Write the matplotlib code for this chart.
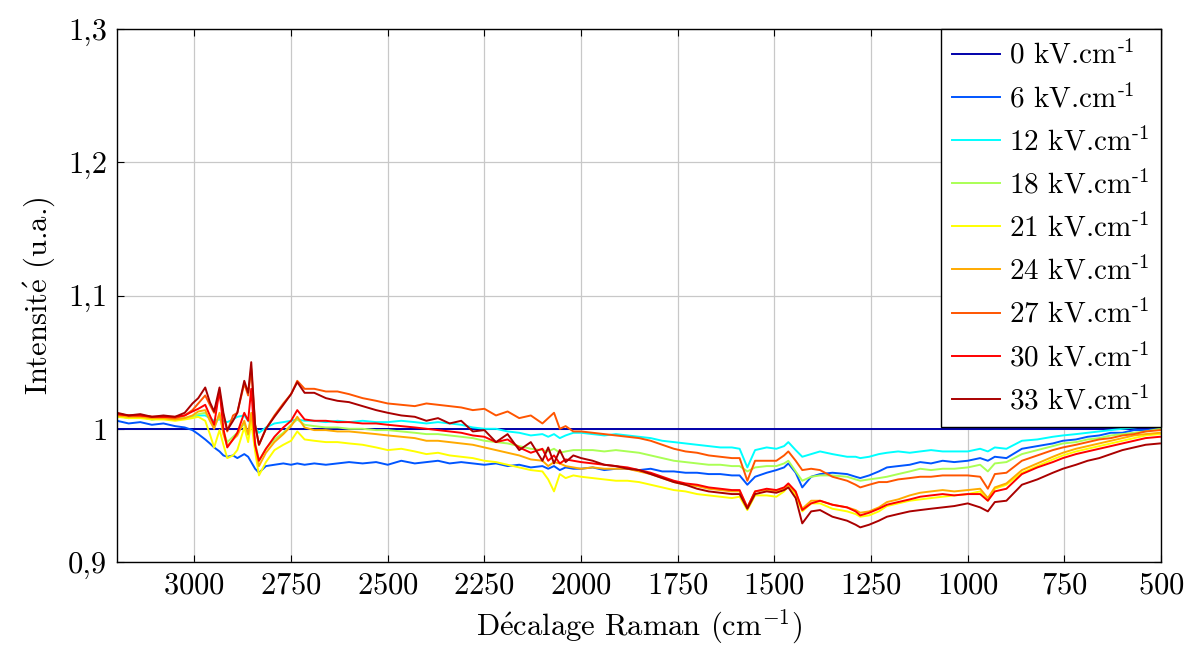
import matplotlib
matplotlib.use("Agg")
import matplotlib.pyplot as plt
from matplotlib.ticker import FuncFormatter, MultipleLocator
import numpy as np

plt.rcParams['font.family'] = ['cmr10', 'DejaVu Serif']
plt.rcParams['mathtext.fontset'] = 'cm'
plt.rcParams['axes.formatter.use_mathtext'] = True
plt.rcParams['axes.unicode_minus'] = False

# Raman shift (cm-1)
shift = [3200, 3170, 3140, 3110, 3080, 3050, 3025, 3005, 2990, 2972,
         2960, 2949, 2935, 2925, 2915, 2900, 2889, 2871, 2861, 2853,
         2843, 2833, 2815, 2793, 2770, 2750, 2734, 2715, 2690, 2660,
         2630, 2600, 2565, 2530, 2500, 2465, 2430, 2400, 2370, 2340,
         2310, 2280, 2250, 2220, 2190, 2160, 2130, 2100, 2085, 2070,
         2055, 2040, 2020, 2000, 1970, 1940, 1910, 1880, 1850, 1820,
         1790, 1760, 1730, 1700, 1670, 1640, 1610, 1590, 1570, 1550,
         1520, 1495, 1475, 1464, 1445, 1428, 1405, 1382, 1350, 1312,
         1290, 1278, 1255, 1230, 1209, 1180, 1150, 1123, 1095, 1065,
         1035, 1000, 968, 948, 930, 900, 860, 820, 780, 754,
         720, 690, 660, 630, 600, 570, 540, 503]

i0 = [1.0] * len(shift)

i6 = [1.006, 1.004, 1.005, 1.003, 1.004, 1.002, 1.001, 0.999, 0.996, 0.992,
      0.989, 0.986, 0.983, 0.980, 0.979, 0.980, 0.978, 0.981, 0.979, 0.975,
      0.970, 0.967, 0.972, 0.973, 0.974, 0.973, 0.974, 0.973, 0.974, 0.973,
      0.974, 0.975, 0.974, 0.975, 0.973, 0.976, 0.974, 0.975, 0.976, 0.974,
      0.975, 0.974, 0.973, 0.974, 0.972, 0.973, 0.971, 0.972, 0.970, 0.972,
      0.969, 0.971, 0.970, 0.970, 0.971, 0.969, 0.970, 0.970, 0.969, 0.970,
      0.968, 0.968, 0.967, 0.967, 0.966, 0.966, 0.965, 0.965, 0.958, 0.964,
      0.967, 0.969, 0.971, 0.974, 0.967, 0.956, 0.964, 0.966, 0.967, 0.966,
      0.964, 0.963, 0.965, 0.968, 0.971, 0.972, 0.973, 0.975, 0.974, 0.976,
      0.975, 0.976, 0.978, 0.976, 0.979, 0.978, 0.985, 0.987, 0.989, 0.991,
      0.992, 0.994, 0.995, 0.997, 0.997, 0.999, 0.999, 1.000]

i12 = [1.010, 1.008, 1.009, 1.007, 1.008, 1.007, 1.008, 1.009, 1.010, 1.010,
       1.008, 1.006, 1.007, 1.006, 1.005, 1.007, 1.009, 1.010, 1.006, 1.004,
       1.001, 0.997, 1.001, 1.004, 1.005, 1.006, 1.007, 1.006, 1.006, 1.005,
       1.006, 1.005, 1.006, 1.005, 1.005, 1.006, 1.005, 1.004, 1.005, 1.004,
       1.003, 1.001, 1.000, 1.000, 0.998, 0.997, 0.995, 0.996, 0.994, 0.996,
       0.993, 0.995, 0.997, 0.997, 0.996, 0.995, 0.996, 0.995, 0.994, 0.993,
       0.991, 0.990, 0.989, 0.988, 0.987, 0.986, 0.986, 0.985, 0.971, 0.984,
       0.986, 0.985, 0.987, 0.990, 0.984, 0.979, 0.981, 0.983, 0.981, 0.979,
       0.979, 0.978, 0.979, 0.981, 0.982, 0.983, 0.982, 0.983, 0.984, 0.983,
       0.983, 0.983, 0.985, 0.983, 0.986, 0.985, 0.991, 0.992, 0.994, 0.995,
       0.996, 0.997, 0.998, 0.999, 1.000, 1.001, 1.002, 1.003]

i18 = [1.010, 1.008, 1.009, 1.007, 1.008, 1.007, 1.008, 1.009, 1.011, 1.012,
       1.007, 1.001, 1.010, 0.998, 0.990, 0.994, 0.997, 1.004, 0.995, 1.010,
       0.990, 0.976, 0.985, 0.992, 0.997, 1.003, 1.007, 1.003, 1.002, 1.001,
       1.001, 1.000, 1.000, 0.999, 0.999, 0.998, 0.997, 0.996, 0.996, 0.995,
       0.994, 0.993, 0.991, 0.990, 0.989, 0.987, 0.985, 0.984, 0.983, 0.985,
       0.982, 0.983, 0.984, 0.984, 0.984, 0.983, 0.984, 0.983, 0.982, 0.980,
       0.978, 0.976, 0.975, 0.974, 0.973, 0.973, 0.972, 0.972, 0.968, 0.971,
       0.972, 0.972, 0.974, 0.976, 0.968, 0.961, 0.964, 0.965, 0.965, 0.964,
       0.962, 0.961, 0.962, 0.963, 0.964, 0.966, 0.968, 0.970, 0.969, 0.970,
       0.970, 0.971, 0.973, 0.968, 0.974, 0.975, 0.981, 0.984, 0.987, 0.989,
       0.990, 0.992, 0.993, 0.995, 0.996, 0.997, 0.998, 1.000]

i21 = [1.009, 1.008, 1.008, 1.007, 1.007, 1.006, 1.007, 1.008, 1.009, 1.006,
       0.996, 0.986, 0.999, 0.988, 0.978, 0.980, 0.984, 1.001, 0.990, 1.005,
       0.983, 0.965, 0.975, 0.984, 0.988, 0.991, 0.998, 0.992, 0.991, 0.990,
       0.990, 0.989, 0.988, 0.986, 0.984, 0.985, 0.983, 0.981, 0.982, 0.980,
       0.979, 0.978, 0.976, 0.975, 0.973, 0.971, 0.969, 0.968, 0.962, 0.953,
       0.966, 0.963, 0.965, 0.964, 0.963, 0.962, 0.961, 0.961, 0.960, 0.958,
       0.956, 0.954, 0.953, 0.951, 0.950, 0.949, 0.948, 0.949, 0.939, 0.950,
       0.950, 0.949, 0.953, 0.957, 0.950, 0.938, 0.944, 0.944, 0.940, 0.938,
       0.936, 0.934, 0.935, 0.938, 0.942, 0.944, 0.946, 0.947, 0.948, 0.949,
       0.950, 0.951, 0.953, 0.946, 0.955, 0.958, 0.967, 0.972, 0.977, 0.980,
       0.983, 0.985, 0.987, 0.989, 0.991, 0.993, 0.995, 0.996]

i24 = [1.010, 1.009, 1.009, 1.008, 1.008, 1.007, 1.008, 1.010, 1.013, 1.014,
       1.006, 1.000, 1.012, 0.996, 0.987, 0.992, 0.995, 1.006, 0.996, 1.012,
       0.988, 0.972, 0.982, 0.990, 0.996, 1.002, 1.009, 1.001, 0.999, 0.999,
       0.998, 0.998, 0.997, 0.996, 0.995, 0.994, 0.993, 0.991, 0.991, 0.990,
       0.989, 0.988, 0.986, 0.984, 0.982, 0.980, 0.977, 0.976, 0.972, 0.975,
       0.974, 0.972, 0.971, 0.970, 0.971, 0.970, 0.970, 0.970, 0.968, 0.966,
       0.963, 0.960, 0.958, 0.957, 0.955, 0.954, 0.953, 0.953, 0.941, 0.953,
       0.954, 0.953, 0.955, 0.958, 0.952, 0.940, 0.946, 0.946, 0.943, 0.941,
       0.939, 0.937, 0.938, 0.941, 0.945, 0.947, 0.950, 0.952, 0.953, 0.954,
       0.953, 0.954, 0.955, 0.948, 0.956, 0.959, 0.969, 0.974, 0.979, 0.982,
       0.985, 0.987, 0.989, 0.991, 0.993, 0.995, 0.996, 0.997]

i27 = [1.011, 1.010, 1.010, 1.009, 1.009, 1.008, 1.010, 1.014, 1.019, 1.025,
       1.018, 1.012, 1.027, 1.010, 0.998, 1.010, 1.012, 1.034, 1.025, 1.045,
       1.003, 0.988, 1.000, 1.010, 1.019, 1.026, 1.036, 1.030, 1.030, 1.028,
       1.028, 1.026, 1.023, 1.021, 1.019, 1.018, 1.017, 1.019, 1.018, 1.017,
       1.016, 1.014, 1.015, 1.010, 1.013, 1.008, 1.010, 1.004, 1.008, 1.012,
       1.000, 1.002, 0.998, 0.998, 0.997, 0.996, 0.995, 0.994, 0.993, 0.991,
       0.988, 0.985, 0.983, 0.982, 0.980, 0.979, 0.978, 0.978, 0.961, 0.976,
       0.976, 0.976, 0.980, 0.983, 0.976, 0.969, 0.970, 0.969, 0.964, 0.961,
       0.958, 0.956, 0.958, 0.960, 0.960, 0.962, 0.963, 0.964, 0.964, 0.965,
       0.965, 0.965, 0.964, 0.955, 0.966, 0.967, 0.976, 0.980, 0.984, 0.986,
       0.988, 0.990, 0.992, 0.993, 0.995, 0.996, 0.998, 0.999]

i30 = [1.011, 1.010, 1.010, 1.009, 1.009, 1.009, 1.010, 1.013, 1.015, 1.018,
       1.010, 1.003, 1.029, 1.000, 0.986, 0.992, 0.997, 1.012, 1.006, 1.030,
       0.988, 0.976, 0.985, 0.994, 1.001, 1.006, 1.014, 1.007, 1.006, 1.006,
       1.005, 1.005, 1.004, 1.004, 1.003, 1.002, 1.001, 1.000, 0.999, 0.998,
       0.997, 0.995, 0.994, 0.990, 0.992, 0.986, 0.982, 0.985, 0.976, 0.980,
       0.974, 0.977, 0.976, 0.975, 0.974, 0.973, 0.972, 0.971, 0.969, 0.967,
       0.964, 0.961, 0.959, 0.958, 0.956, 0.955, 0.954, 0.954, 0.941, 0.953,
       0.955, 0.954, 0.956, 0.959, 0.953, 0.939, 0.944, 0.946, 0.943, 0.941,
       0.938, 0.935, 0.937, 0.940, 0.943, 0.945, 0.947, 0.949, 0.950, 0.951,
       0.950, 0.951, 0.951, 0.946, 0.953, 0.955, 0.966, 0.971, 0.975, 0.978,
       0.981, 0.983, 0.985, 0.987, 0.989, 0.991, 0.993, 0.994]

i33 = [1.012, 1.010, 1.011, 1.009, 1.010, 1.009, 1.012, 1.019, 1.023, 1.031,
       1.020, 1.013, 1.031, 1.012, 0.999, 1.006, 1.012, 1.036, 1.027, 1.050,
       1.003, 0.988, 1.000, 1.009, 1.018, 1.026, 1.035, 1.027, 1.027, 1.023,
       1.021, 1.020, 1.017, 1.014, 1.012, 1.010, 1.009, 1.006, 1.008, 1.004,
       1.006, 0.998, 0.999, 0.990, 0.996, 0.984, 0.990, 0.976, 0.986, 0.974,
       0.984, 0.975, 0.980, 0.978, 0.976, 0.973, 0.972, 0.970, 0.969, 0.966,
       0.963, 0.960, 0.958, 0.955, 0.953, 0.952, 0.951, 0.951, 0.940, 0.951,
       0.953, 0.952, 0.954, 0.956, 0.948, 0.929, 0.938, 0.939, 0.934, 0.931,
       0.928, 0.926, 0.928, 0.931, 0.934, 0.936, 0.938, 0.939, 0.940, 0.941,
       0.942, 0.944, 0.941, 0.938, 0.945, 0.946, 0.958, 0.962, 0.967, 0.970,
       0.973, 0.976, 0.978, 0.981, 0.984, 0.986, 0.988, 0.989]

fields = [0, 6, 12, 18, 21, 24, 27, 30, 33]
spectra = [i0, i6, i12, i18, i21, i24, i27, i30, i33]
colors = ['#0000aa', '#0055ff', '#00ffff', '#aaff55', '#ffff00',
          '#ffaa00', '#ff5500', '#ff0000', '#aa0000']

fig = plt.figure(figsize=(11.86, 6.46), dpi=100)
ax = fig.add_axes([0.0987, 0.130, 0.8803, 0.825])

for field, y, c in zip(fields, spectra, colors):
    ax.plot(shift, y, color=c, linewidth=1.4,
            label=str(field) + r' kV.cm$^{\text{-1}}$')

ax.set_xlim(3200, 500)
ax.set_ylim(0.9, 1.3)
ax.xaxis.set_major_locator(MultipleLocator(250))
ax.yaxis.set_major_locator(MultipleLocator(0.1))
ax.yaxis.set_major_formatter(FuncFormatter(lambda v, p: ('%g' % round(v, 2)).replace('.', ',')))
ax.grid(True, color='#c8c8c8', linewidth=0.9)
ax.set_axisbelow(True)
ax.tick_params(direction='in', top=True, right=True, labelsize=22, length=5, pad=7)
for s in ax.spines.values():
    s.set_linewidth(1.0)

ax.set_xlabel('D' + r'$\mathrm{\acute{e}}$' + r'calage Raman (cm$^{-1}$)', fontsize=22, labelpad=6)
ax.set_ylabel('Intensit' + r'$\mathrm{\acute{e}}$' + ' (u.a.)', fontsize=22, labelpad=8)

leg = ax.legend(loc='upper right', fontsize=21, fancybox=False, edgecolor='black',
                framealpha=1, borderaxespad=0, handlelength=1.65, labelspacing=0.48,
                handletextpad=0.3, borderpad=0.4)
leg.get_frame().set_linewidth(1.0)

plt.savefig('out.png', dpi=100)
